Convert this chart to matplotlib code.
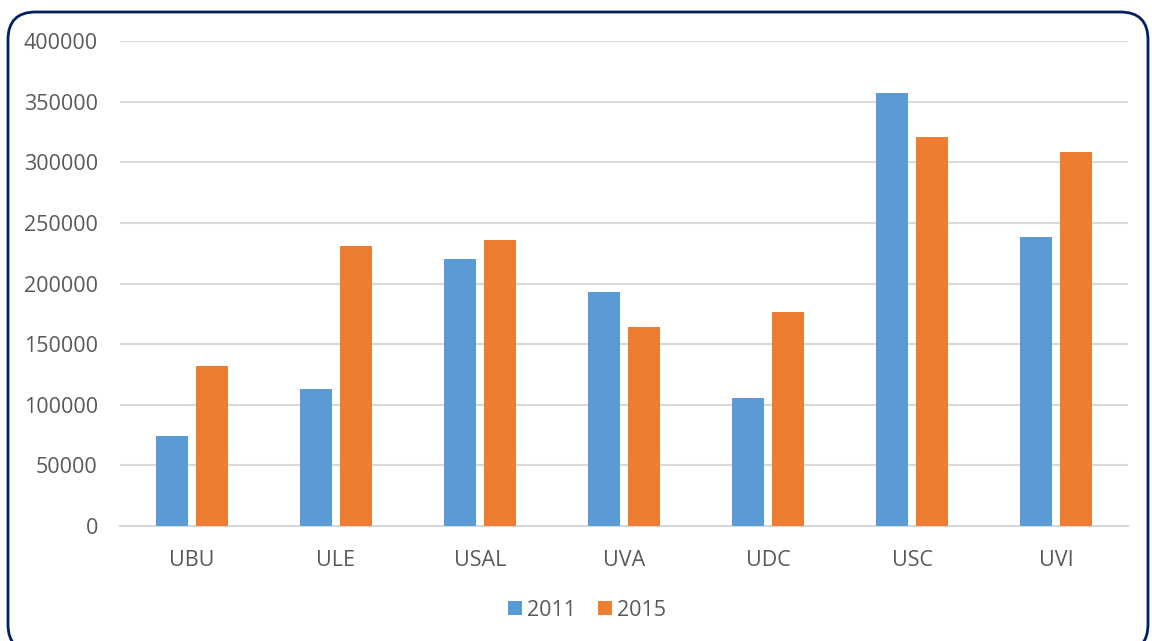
import matplotlib
matplotlib.use("Agg")
import matplotlib.pyplot as plt
from matplotlib.patches import FancyBboxPatch
import numpy as np

plt.rcParams['font.family'] = ['Open Sans', 'DejaVu Sans']

categories = ["UBU", "ULE", "USAL", "UVA", "UDC", "USC", "UVI"]
series_names = ["2011", "2015"]
values_2011 = [74400, 113000, 220300, 193400, 105200, 357400, 238000]
values_2015 = [131800, 231000, 235500, 164500, 176900, 320900, 308500]
y_ticks = [0, 50000, 100000, 150000, 200000, 250000, 300000, 350000, 400000]

W, H = 1152, 641
fig = plt.figure(figsize=(W / 100, H / 100), dpi=100)
ax = fig.add_axes([120 / W, 1 - 526 / H, 1008 / W, 485 / H])

x = np.arange(len(categories))
bw = 0.222
off = 0.142
ax.bar(x - off, values_2011, width=bw, color="#5B9BD5", label=series_names[0], zorder=3)
ax.bar(x + off, values_2015, width=bw, color="#ED7D31", label=series_names[1], zorder=3)

ax.set_xlim(-0.5, len(categories) - 0.5)
ax.set_ylim(0, 400000)
ax.set_yticks(y_ticks)
ax.set_yticklabels([str(v) for v in y_ticks])
ax.set_xticks(x)
ax.set_xticklabels(categories)
ax.grid(axis="y", color="#D9D9D9", linewidth=1.5, zorder=0)
for s in ["top", "right", "left"]:
    ax.spines[s].set_visible(False)
ax.spines["bottom"].set_color("#D9D9D9")
ax.spines["bottom"].set_linewidth(1.5)
ax.tick_params(axis="y", length=0, pad=16, labelsize=15.5, labelcolor="#595959")
ax.tick_params(axis="x", length=0, pad=17, labelsize=15.5, labelcolor="#595959")

leg = fig.legend(loc="center", bbox_to_anchor=(587 / W, 1 - 610 / H), ncol=2,
                 frameon=False, fontsize=15.5, handlelength=0.65, handleheight=0.65,
                 handletextpad=0.25, columnspacing=1.0)
for t in leg.get_texts():
    t.set_color("#595959")

# rounded border
x0, y0, x1, y1 = 8, 12, 1148, 652
box = FancyBboxPatch((x0 / W, 1 - y1 / H), (x1 - x0) / W, (y1 - y0) / H,
                     boxstyle="round,pad=0,rounding_size=0.024",
                     transform=fig.transFigure, fill=False,
                     edgecolor="#002060", linewidth=2.0, clip_on=False,
                     mutation_aspect=W / H)
fig.patches.append(box)

fig.savefig("out.png", dpi=100)
